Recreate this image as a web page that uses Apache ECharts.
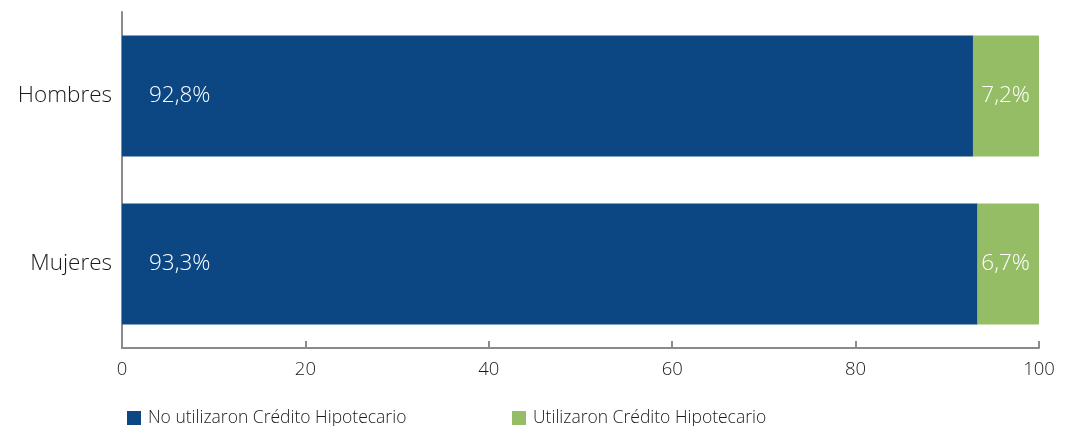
<!DOCTYPE html>
<html>
<head>
<meta charset="utf-8">
<script src="https://cdn.jsdelivr.net/npm/echarts@6/dist/echarts.min.js"></script>
<style>
  html, body { margin: 0; padding: 0; background: #ffffff; }
  #chart { width: 1070px; height: 426px; }
</style>
</head>
<body>
<div id="chart"></div>
<script>
// Uso de crédito hipotecario por sexo (%)
const categories = ['Hombres', 'Mujeres'];
const noUtilizaron = [92.8, 93.3];
const utilizaron = [7.2, 6.7];
const seriesNames = ['No utilizaron Crédito Hipotecario', 'Utilizaron Crédito Hipotecario'];
const xTicks = [0, 20, 40, 60, 80, 100];

const FONT = '"Open Sans", Lato, sans-serif';
const WEIGHT = 300;
const BLUE = '#0d4783';
const GREEN = '#94bd66';

const fmt = v => v.toFixed(1).replace('.', ',') + '%';

const chart = echarts.init(document.getElementById('chart'), null, { renderer: 'canvas' });

const legendText = { fontFamily: FONT, fontWeight: WEIGHT, fontSize: 17.5, color: '#1a1a1a', padding: [0, 0, 0, 2] };

chart.setOption({
  animation: false,
  textStyle: { fontFamily: FONT },
  grid: { left: 122, right: 31, top: 12, bottom: 78, containLabel: false },
  legend: [
    {
      data: [seriesNames[0]],
      left: 122, top: 404,
      itemWidth: 14, itemHeight: 14, itemGap: 10,
      icon: 'rect',
      textStyle: legendText
    },
    {
      data: [seriesNames[1]],
      left: 507, top: 404,
      itemWidth: 14, itemHeight: 14, itemGap: 10,
      icon: 'rect',
      textStyle: legendText
    }
  ],
  xAxis: {
    type: 'value',
    min: xTicks[0],
    max: xTicks[xTicks.length - 1],
    interval: 20,
    splitLine: { show: false },
    axisLine: { show: true, lineStyle: { color: '#8a8a8a', width: 2 } },
    axisTick: { show: true, inside: true, length: 7, lineStyle: { color: '#8a8a8a', width: 2 } },
    axisLabel: {
      fontFamily: FONT, fontWeight: WEIGHT, fontSize: 18.5, color: '#1a1a1a', margin: 12,
      formatter: v => String(v)
    }
  },
  yAxis: {
    type: 'category',
    data: categories,
    inverse: true,
    axisLine: { show: true, lineStyle: { color: '#8a8a8a', width: 2 } },
    axisTick: { show: false },
    axisLabel: { fontFamily: FONT, fontWeight: WEIGHT, fontSize: 22.5, color: '#1a1a1a', margin: 10 }
  },
  series: [
    {
      name: seriesNames[0],
      type: 'bar',
      stack: 'total',
      barCategoryGap: '28%',
      data: noUtilizaron,
      itemStyle: { color: BLUE },
      label: {
        show: true, position: 'insideLeft', distance: 27,
        fontFamily: FONT, fontWeight: WEIGHT, fontSize: 22.5, color: '#ffffff',
        formatter: p => fmt(p.value)
      }
    },
    {
      name: seriesNames[1],
      type: 'bar',
      stack: 'total',
      data: utilizaron,
      itemStyle: { color: GREEN },
      label: {
        show: true, position: 'insideRight', distance: 9,
        fontFamily: FONT, fontWeight: WEIGHT, fontSize: 22.5, color: '#ffffff',
        formatter: p => fmt(p.value)
      }
    }
  ]
});
</script>
</body>
</html>
